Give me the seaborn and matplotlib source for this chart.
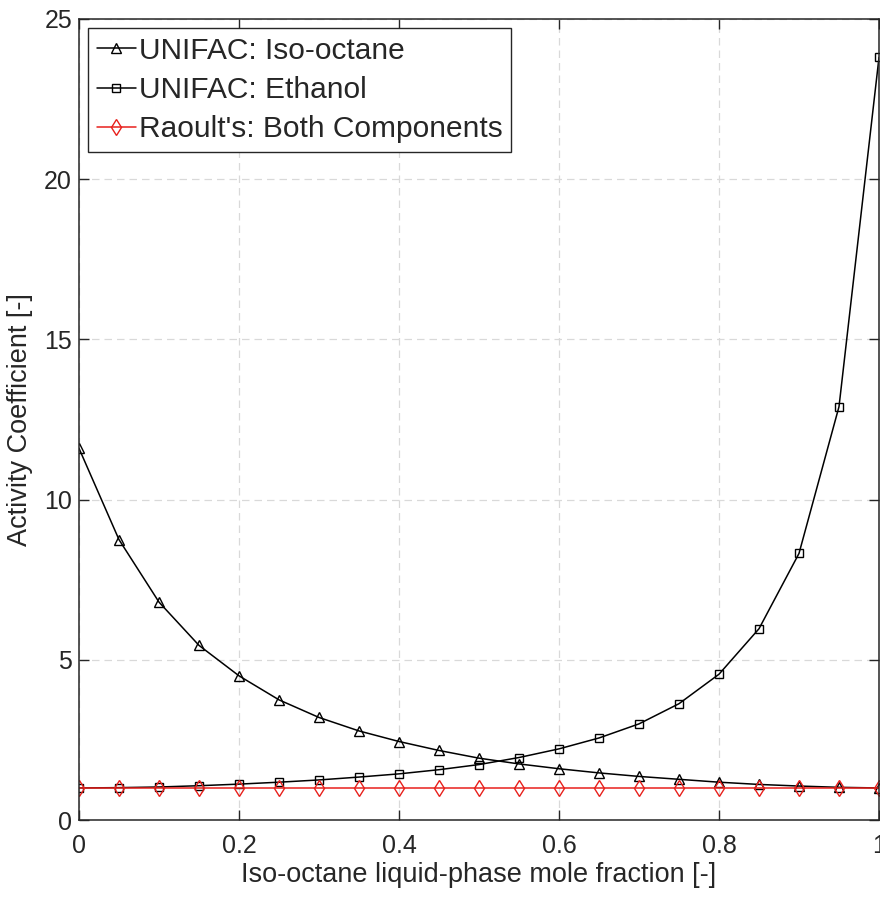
import numpy as np
import pandas as pd
import matplotlib
matplotlib.use("Agg")
import matplotlib.pyplot as plt
import seaborn as sns

x_frac = [0.00, 0.05, 0.10, 0.15, 0.20, 0.25, 0.30, 0.35, 0.40, 0.45, 0.50,
          0.55, 0.60, 0.65, 0.70, 0.75, 0.80, 0.85, 0.90, 0.95, 1.00]
gamma_isooctane = [11.6, 8.75, 6.8, 5.45, 4.5, 3.75, 3.2, 2.78, 2.45, 2.17, 1.93,
                   1.75, 1.6, 1.47, 1.36, 1.27, 1.18, 1.11, 1.06, 1.02, 1.0]
gamma_ethanol = [1.0, 1.01, 1.03, 1.07, 1.12, 1.18, 1.25, 1.34, 1.44, 1.57, 1.73,
                 1.95, 2.22, 2.56, 3.0, 3.63, 4.55, 5.97, 8.32, 12.9, 23.8]
gamma_raoult = [1.0] * 21
labels = ["UNIFAC: Iso-octane", "UNIFAC: Ethanol", "Raoult's: Both Components"]

sns.set_theme(style="white")
plt.rcParams['font.family'] = ['Liberation Sans', 'DejaVu Sans']

fig = plt.figure(figsize=(8.8, 8.97), dpi=100)
ax = fig.add_axes([79/880, 1 - 820/897, 800/880, 801/897])

df = pd.DataFrame({"x": x_frac, "iso": gamma_isooctane, "eth": gamma_ethanol, "rao": gamma_raoult})

sns.lineplot(data=df, x="x", y="iso", ax=ax, color="black", lw=1.1, marker="^",
             markersize=7.5, markerfacecolor="none", markeredgecolor="black",
             markeredgewidth=1.0, label=labels[0])
sns.lineplot(data=df, x="x", y="eth", ax=ax, color="black", lw=1.1, marker="s",
             markersize=5.5, markerfacecolor="none", markeredgecolor="black",
             markeredgewidth=1.0, label=labels[1])
sns.lineplot(data=df, x="x", y="rao", ax=ax, color="#e8201c", lw=1.1, marker="d",
             markersize=8, markerfacecolor="none", markeredgecolor="#e8201c",
             markeredgewidth=1.0, label=labels[2])

ax.set_xlim(0, 1)
ax.set_ylim(0, 25)
ax.set_xticks([0, 0.2, 0.4, 0.6, 0.8, 1])
ax.set_xticklabels(["0", "0.2", "0.4", "0.6", "0.8", "1"])
ax.set_yticks([0, 5, 10, 15, 20, 25])
ax.grid(True, color="#d9d9d9", linestyle=(0, (6, 4)), lw=0.9)
ax.tick_params(direction="in", length=7, width=1, colors="#262626", labelsize=18,
               top=True, right=True, bottom=True, left=True)
ax.tick_params(axis="x", pad=10)
ax.tick_params(axis="y", pad=5)
for sp in ax.spines.values():
    sp.set_color("#262626")
    sp.set_linewidth(1.1)
ax.set_xlabel("Iso-octane liquid-phase mole fraction [-]", fontsize=19.5, color="#262626", labelpad=3)
ax.set_ylabel("Activity Coefficient [-]", fontsize=19.5, color="#262626", labelpad=8)

leg = ax.legend(loc="upper left", fontsize=21.5, frameon=True, fancybox=False,
                edgecolor="#262626", handlelength=1.3, handletextpad=0.1,
                borderpad=0.3, labelspacing=0.37, borderaxespad=0.3, framealpha=1)
leg.get_frame().set_linewidth(1.0)

fig.savefig("out.png", dpi=100)
